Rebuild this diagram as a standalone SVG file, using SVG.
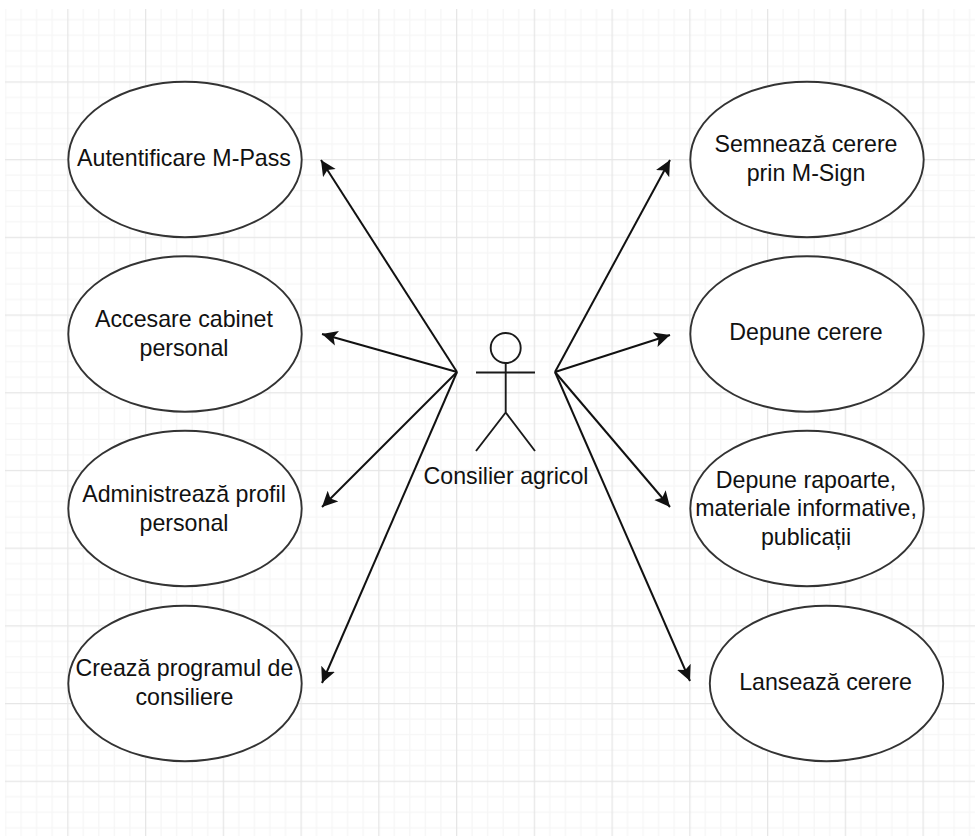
<svg xmlns="http://www.w3.org/2000/svg" width="975" height="836" viewBox="0 0 975 836">
<style>
.u{fill:#fff;stroke:#333;stroke-width:1.9}
.t{font-family:"Liberation Sans",Arial,sans-serif;font-size:23.2px;fill:#111;text-anchor:middle}
.c{fill:none;stroke:#111;stroke-width:2;marker-end:url(#a)}
.s{fill:none;stroke:#1a1a1a;stroke-width:1.9}
</style>
<defs>
<marker id="a" markerUnits="userSpaceOnUse" markerWidth="18" markerHeight="18" refX="15.5" refY="8" orient="auto"><path d="M0 0.5L15.5 8L0 15.5L3.5 8Z" fill="#111"/></marker>
<pattern id="g" patternUnits="userSpaceOnUse" x="-10.5" y="3.7" width="77.75" height="77.7">
<path d="M16.05 0V77.7M31.6 0V77.7M47.15 0V77.7M62.7 0V77.7M0 16.04H77.75M0 31.58H77.75M0 47.12H77.75M0 62.66H77.75" stroke="#f6f6f6" stroke-width="1.3" fill="none"/>
<path d="M0.5 0V77.7M0 0.5H77.75" stroke="#e6e6e6" stroke-width="1.6" fill="none"/>
</pattern>
</defs>
<rect width="975" height="836" fill="#fff"/>
<rect id="grid" x="5" y="9" width="970" height="827" fill="url(#g)"/>
<g id="connectors">
<path class="c" d="M457 372L321 160"/>
<path class="c" d="M457 372L322 334"/>
<path class="c" d="M457 372L322 507"/>
<path class="c" d="M457 372L322 683"/>
<path class="c" d="M555 372L670 160"/>
<path class="c" d="M555 372L670 335"/>
<path class="c" d="M555 372L670 507"/>
<path class="c" d="M555 372L690 681"/>
</g>
<g id="actor">
<circle class="s" cx="505.7" cy="348" r="15"/>
<path class="s" d="M505.7 363V412.5M476 372.5H535M476 451L505.7 412.5L535 451"/>
<text class="t" x="506" y="484">Consilier agricol</text>
</g>
<g id="n1"><ellipse class="u" cx="185" cy="159.5" rx="116.7" ry="77.7"/><text class="t" x="184" y="166">Autentificare M-Pass</text></g>
<g id="n2"><ellipse class="u" cx="185" cy="334" rx="116.7" ry="77.7"/><text class="t" x="184" y="326.5">Accesare cabinet</text><text class="t" x="184" y="356">personal</text></g>
<g id="n3"><ellipse class="u" cx="185" cy="508.5" rx="116.7" ry="77.7"/><text class="t" x="184" y="501.5">Administrează profil</text><text class="t" x="184" y="530.5">personal</text></g>
<g id="n4"><ellipse class="u" cx="185" cy="683.5" rx="116.7" ry="77.7"/><text class="t" x="184.5" y="676">Crează programul de</text><text class="t" x="184.5" y="705">consiliere</text></g>
<g id="r1"><ellipse class="u" cx="807" cy="159.5" rx="116.7" ry="77.7"/><text class="t" x="806" y="151.5">Semnează cerere</text><text class="t" x="806" y="181">prin M-Sign</text></g>
<g id="r2"><ellipse class="u" cx="807" cy="334" rx="116.7" ry="77.7"/><text class="t" x="806" y="340">Depune cerere</text></g>
<g id="r3"><ellipse class="u" cx="807" cy="508.5" rx="116.7" ry="77.7"/><text class="t" x="806" y="488">Depune rapoarte,</text><text class="t" x="806" y="516">materiale informative,</text><text class="t" x="806" y="544.5">publicații</text></g>
<g id="r4"><ellipse class="u" cx="826.5" cy="683.5" rx="116.7" ry="77.7"/><text class="t" x="825.5" y="690">Lansează cerere</text></g>
</svg>
